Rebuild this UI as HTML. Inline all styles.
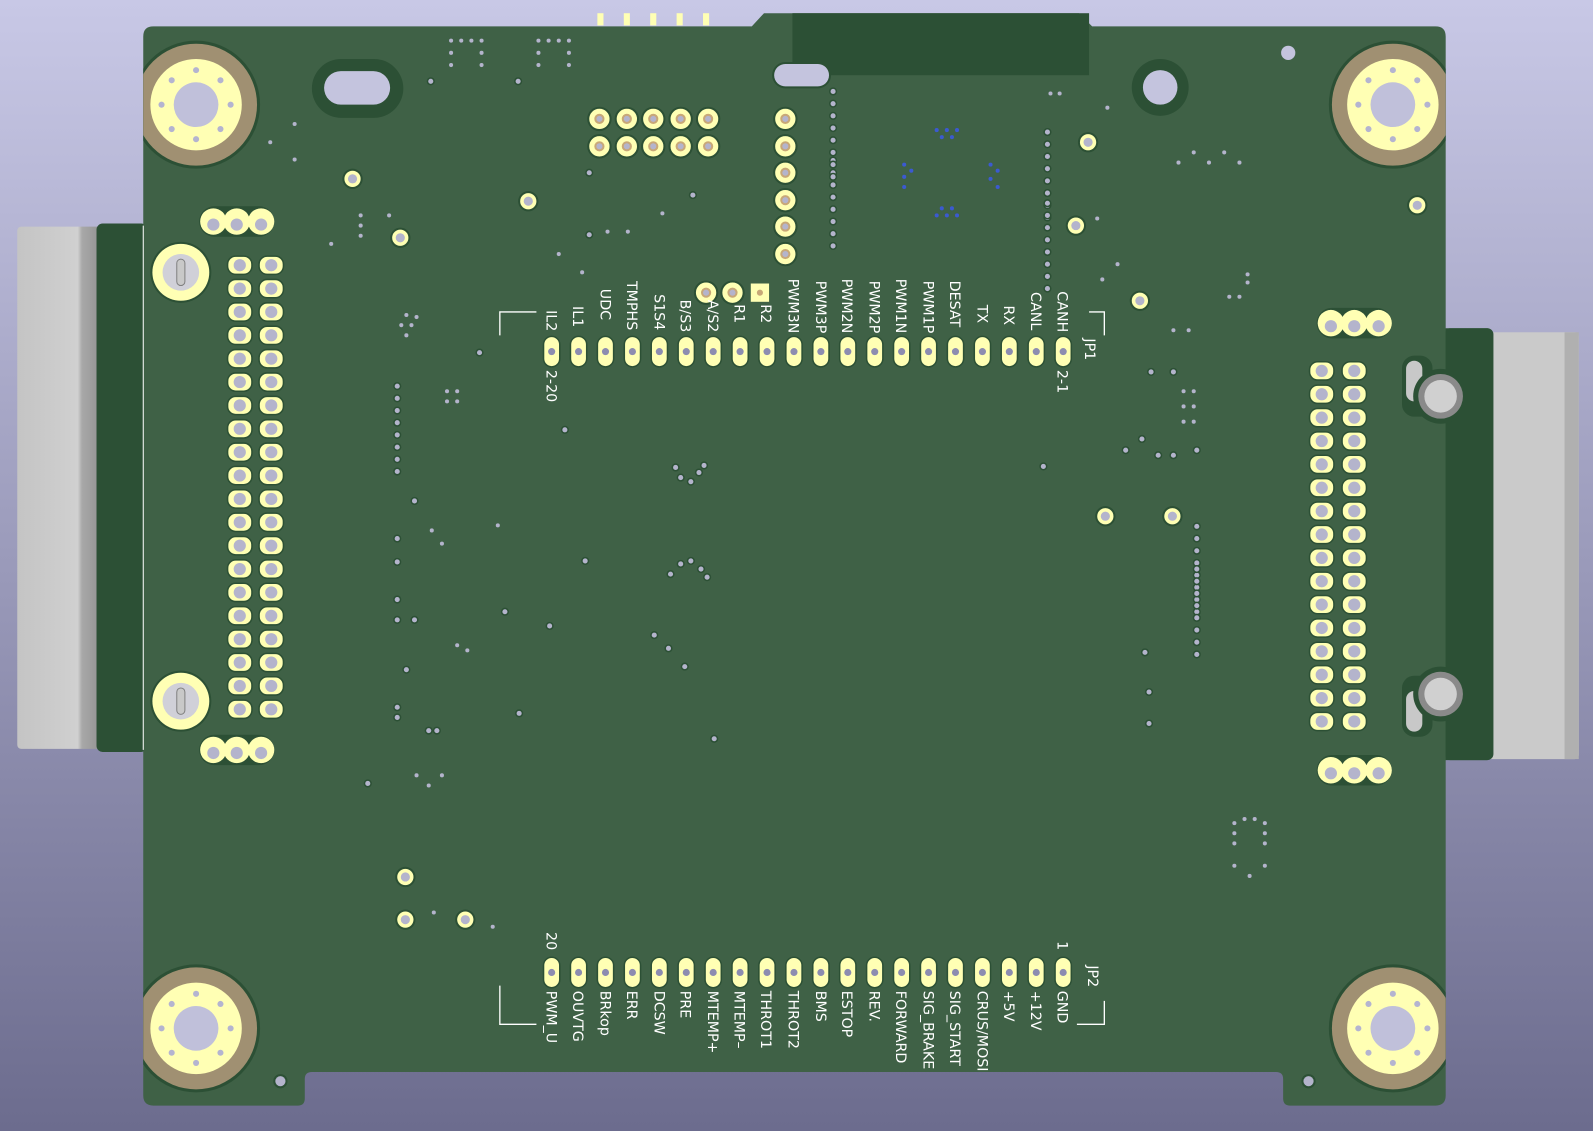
<!DOCTYPE html>
<html><head><meta charset="utf-8"><style>
html,body{margin:0;padding:0;width:1593px;height:1131px;overflow:hidden}
svg{display:block}
text{font-family:"DejaVu Sans","Liberation Sans",sans-serif;fill:#fff;font-size:14px}
</style></head><body>
<svg width="1593" height="1131" viewBox="0 0 1568 1113" preserveAspectRatio="none" xmlns="http://www.w3.org/2000/svg">
<defs>
<linearGradient id="bg" x1="0" y1="0" x2="0" y2="1"><stop offset="0" stop-color="#c8c8e6"/><stop offset="1" stop-color="#6c6c8e"/></linearGradient>
<linearGradient id="gl" x1="0" y1="0" x2="1" y2="0"><stop offset="0" stop-color="#c4c4c4"/><stop offset="0.7" stop-color="#d0d0d0"/><stop offset="0.75" stop-color="#a8a8a8"/><stop offset="1" stop-color="#909090"/></linearGradient>
<clipPath id="bc"><rect x="141" y="26" width="1282" height="1062"/></clipPath>
<g id="mh"><circle r="63" fill="#2c5035"/><circle r="60" fill="#a09072"/><circle r="45" fill="#ffffb4"/><circle r="22" fill="#c0c0da"/>
<g fill="#b4b4d0"><circle cx="0" cy="-34" r="3"/><circle cx="0" cy="34" r="3"/><circle cx="-34" cy="0" r="3"/><circle cx="34" cy="0" r="3"/><circle cx="24" cy="24" r="3"/><circle cx="-24" cy="24" r="3"/><circle cx="24" cy="-24" r="3"/><circle cx="-24" cy="-24" r="3"/></g></g>
<g id="hp"><rect x="-12" y="-9" width="24" height="18" rx="8" fill="#ffffb4" stroke="#2c5035" stroke-width="1.5"/><circle r="6" fill="#b4b4cc"/></g>
<g id="op"><rect x="-8" y="-15" width="16" height="30" rx="8" fill="#ffffb4" stroke="#2c5035" stroke-width="1.5"/><circle r="3.5" fill="#8c8cb0"/></g>
<g id="rp"><circle r="11" fill="#ffffb4" stroke="#2c5035" stroke-width="2"/><circle r="5" fill="#c8a878"/><circle r="3" fill="#b4b4cc"/></g>
<g id="yv"><circle r="10" fill="#2c5035"/><circle r="8" fill="#ffffb4"/><circle r="4.5" fill="#b4b4cc"/></g>
<g id="tr"><circle r="30" fill="#2c5035"/><circle r="28" fill="#ffffb4"/><circle r="18" fill="#d0d0d8"/><rect x="-4" y="-13" width="8" height="26" rx="4" fill="#c8c8c8" stroke="#808080"/></g>
<g id="d"><circle r="4" fill="#2c5035"/><circle r="2.5" fill="#b4b4cc"/></g>
<g id="vc"><use href="#d" x="0" y="0"/><use href="#d" x="0" y="12"/><use href="#d" x="0" y="24"/><use href="#d" x="0" y="36"/><use href="#d" x="0" y="48"/><use href="#d" x="0" y="60"/><use href="#d" x="0" y="72"/><use href="#d" x="0" y="84"/></g>
</defs>
<rect width="1568" height="1113" fill="url(#bg)"/>
<!-- left connector -->
<rect x="17" y="223" width="85" height="514" rx="4" fill="url(#gl)"/>
<rect x="95" y="220" width="50" height="520" rx="6" fill="#2c5035"/>
<!-- right connector -->
<rect x="1460" y="327" width="94" height="420" rx="4" fill="#cacaca"/>
<rect x="1540" y="327" width="14" height="420" fill="#b0b0b0"/>
<rect x="1400" y="323" width="70" height="425" rx="6" fill="#2c5035"/>
<!-- board -->
<path d="M151 26 H740 L752 13 H1062 L1075 26 H1413 Q1423 26 1423 36 V1078 Q1423 1088 1413 1088 H1270 Q1263 1088 1263 1081 V1062 Q1263 1055 1256 1055 H307 Q300 1055 300 1062 V1081 Q300 1088 293 1088 H151 Q141 1088 141 1078 V36 Q141 26 151 26Z" fill="#3f6146"/>
<rect x="1423" y="323" width="45" height="425" rx="4" fill="#2c5035"/>
<rect x="780" y="13" width="292" height="61" fill="#2c5035"/>
<line x1="141" y1="222" x2="141" y2="738" stroke="#fff" stroke-width="1"/>
<!-- top pins -->
<g fill="#ffffb4"><rect x="588" y="13" width="6" height="12"/><rect x="614" y="13" width="6" height="12"/><rect x="640" y="13" width="6" height="12"/><rect x="666" y="13" width="6" height="12"/><rect x="692" y="13" width="6" height="12"/></g>
<!-- holes -->
<rect x="307" y="58" width="90" height="58" rx="29" fill="#2c5035"/><rect x="319" y="70" width="65" height="33" rx="16.5" fill="#c4c4de"/>
<rect x="760" y="61" width="58" height="26" rx="13" fill="#2c5035"/><rect x="762" y="63" width="54" height="22" rx="11" fill="#c4c4de"/>
<circle cx="1142" cy="86" r="28" fill="#2c5035"/><circle cx="1142" cy="86" r="17" fill="#c4c4de"/>
<circle cx="1268" cy="52" r="7" fill="#c4c4de"/><circle cx="276" cy="1064" r="7" fill="#2c5035"/><circle cx="276" cy="1064" r="5" fill="#b4b4cc"/><circle cx="1288" cy="1064" r="7" fill="#2c5035"/><circle cx="1288" cy="1064" r="5" fill="#b4b4cc"/>
<!-- mounting -->
<g clip-path="url(#bc)"><use href="#mh" x="193" y="103"/><use href="#mh" x="1371" y="103"/><use href="#mh" x="193" y="1012"/><use href="#mh" x="1371" y="1012"/></g>
<!-- right side posts -->
<g><rect x="1380" y="350" width="30" height="60" rx="12" fill="#2c5035"/><rect x="1384" y="355" width="16" height="40" rx="8" fill="#c8c8c8"/><circle cx="1418" cy="390" r="27" fill="#2c5035"/><circle cx="1418" cy="390" r="22" fill="#8a8a8a"/><circle cx="1418" cy="390" r="16" fill="#d0d0d0"/></g>
<g><rect x="1380" y="665" width="30" height="60" rx="12" fill="#2c5035"/><rect x="1384" y="680" width="16" height="40" rx="8" fill="#c8c8c8"/><circle cx="1418" cy="683" r="27" fill="#2c5035"/><circle cx="1418" cy="683" r="22" fill="#8a8a8a"/><circle cx="1418" cy="683" r="16" fill="#d0d0d0"/></g>
<!-- trimmers -->
<use href="#tr" x="178" y="268"/><use href="#tr" x="178" y="690"/>
<!-- 3-pad groups -->
<g id="g3"><rect x="196" y="203" width="74" height="30" rx="15" fill="#2c5035"/><circle cx="210" cy="218" r="13" fill="#ffffb4"/><circle cx="233" cy="218" r="13" fill="#ffffb4"/><circle cx="257" cy="218" r="13" fill="#ffffb4"/><circle cx="210" cy="221" r="6" fill="#b4b4cc"/><circle cx="233" cy="221" r="6" fill="#b4b4cc"/><circle cx="257" cy="221" r="6" fill="#b4b4cc"/></g>
<use href="#g3" x="0" y="520"/><use href="#g3" x="1100" y="100"/><use href="#g3" x="1100" y="540"/>
<!-- left header -->
<g id="lh"><use href="#hp" x="236" y="261"/><use href="#hp" x="267" y="261"/><use href="#hp" x="236" y="284"/><use href="#hp" x="267" y="284"/><use href="#hp" x="236" y="307"/><use href="#hp" x="267" y="307"/><use href="#hp" x="236" y="330"/><use href="#hp" x="267" y="330"/><use href="#hp" x="236" y="353"/><use href="#hp" x="267" y="353"/></g>
<use href="#lh" y="115"/><use href="#lh" y="230"/><use href="#lh" y="345"/>
<!-- right header -->
<g id="rh"><use href="#hp" x="1301" y="365"/><use href="#hp" x="1333" y="365"/><use href="#hp" x="1301" y="388"/><use href="#hp" x="1333" y="388"/><use href="#hp" x="1301" y="411"/><use href="#hp" x="1333" y="411"/><use href="#hp" x="1301" y="434"/><use href="#hp" x="1333" y="434"/></g>
<use href="#rh" y="92"/><use href="#rh" y="184"/><use href="#rh" y="276"/>
<!-- top 2x5 -->
<use href="#rp" x="590" y="117"/><use href="#rp" x="617" y="117"/><use href="#rp" x="643" y="117"/><use href="#rp" x="670" y="117"/><use href="#rp" x="697" y="117"/>
<use href="#rp" x="590" y="144"/><use href="#rp" x="617" y="144"/><use href="#rp" x="643" y="144"/><use href="#rp" x="670" y="144"/><use href="#rp" x="697" y="144"/>
<use href="#rp" x="773" y="117"/><use href="#rp" x="773" y="144"/><use href="#rp" x="773" y="170"/><use href="#rp" x="773" y="197"/><use href="#rp" x="773" y="223"/><use href="#rp" x="773" y="250"/>
<use href="#rp" x="695" y="288"/><use href="#rp" x="721" y="288"/><rect x="739" y="279" width="18" height="18" fill="#ffffb4"/><circle cx="748" cy="288" r="3" fill="#c8a878"/>
<!-- yellow vias -->
<use href="#yv" x="347" y="176"/><use href="#yv" x="520" y="198"/><use href="#yv" x="394" y="234"/><use href="#yv" x="1071" y="140"/><use href="#yv" x="1059" y="222"/><use href="#yv" x="1395" y="202"/><use href="#yv" x="1122" y="296"/><use href="#yv" x="399" y="863"/><use href="#yv" x="399" y="905"/><use href="#yv" x="458" y="905"/><use href="#yv" x="1088" y="508"/><use href="#yv" x="1154" y="508"/>
<!-- via columns -->
<use href="#vc" x="820" y="158"/><use href="#vc" x="1031" y="130"/><use href="#vc" x="1031" y="200"/><use href="#vc" x="391" y="380"/><use href="#vc" x="1178" y="518"/><use href="#vc" x="1178" y="560"/><use href="#vc" x="820" y="90"/>
<use href="#d" x="1133" y="366"/><use href="#d" x="1155" y="366"/><use href="#d" x="1027" y="459"/><use href="#d" x="556" y="423"/><use href="#d" x="472" y="347"/><use href="#d" x="580" y="170"/><use href="#d" x="682" y="192"/><use href="#d" x="580" y="231"/><use href="#d" x="424" y="80"/><use href="#d" x="510" y="80"/><use href="#d" x="362" y="771"/><use href="#d" x="703" y="727"/><use href="#d" x="541" y="616"/><use href="#d" x="576" y="552"/><use href="#d" x="658" y="638"/><use href="#d" x="674" y="656"/><use href="#d" x="644" y="625"/><use href="#d" x="391" y="553"/><use href="#d" x="391" y="530"/><use href="#d" x="391" y="590"/><use href="#d" x="391" y="610"/><use href="#d" x="408" y="610"/><use href="#d" x="391" y="696"/><use href="#d" x="391" y="706"/><use href="#d" x="400" y="659"/><use href="#d" x="1131" y="681"/><use href="#d" x="1131" y="712"/><use href="#d" x="1127" y="642"/><use href="#d" x="1108" y="443"/><use href="#d" x="1124" y="432"/><use href="#d" x="1140" y="448"/><use href="#d" x="1155" y="448"/><use href="#d" x="1178" y="443"/>
<use href="#d" x="660" y="565"/><use href="#d" x="670" y="555"/><use href="#d" x="680" y="552"/><use href="#d" x="690" y="560"/><use href="#d" x="696" y="568"/><use href="#d" x="665" y="460"/><use href="#d" x="670" y="470"/><use href="#d" x="680" y="474"/><use href="#d" x="688" y="465"/><use href="#d" x="693" y="458"/><use href="#d" x="497" y="602"/><use href="#d" x="511" y="702"/><use href="#d" x="408" y="493"/><use href="#d" x="422" y="719"/><use href="#d" x="430" y="719"/>
<g fill="#b4b4cc"><circle cx="444" cy="40" r="2"/><circle cx="454" cy="40" r="2"/><circle cx="464" cy="40" r="2"/><circle cx="474" cy="40" r="2"/><circle cx="444" cy="52" r="2"/><circle cx="474" cy="52" r="2"/><circle cx="444" cy="64" r="2"/><circle cx="474" cy="64" r="2"/><circle cx="530" cy="40" r="2"/><circle cx="540" cy="40" r="2"/><circle cx="550" cy="40" r="2"/><circle cx="560" cy="40" r="2"/><circle cx="530" cy="52" r="2"/><circle cx="560" cy="52" r="2"/><circle cx="530" cy="64" r="2"/><circle cx="560" cy="64" r="2"/><circle cx="290" cy="122" r="2"/><circle cx="266" cy="140" r="2"/><circle cx="290" cy="157" r="2"/><circle cx="1160" cy="160" r="2"/><circle cx="1190" cy="160" r="2"/><circle cx="1220" cy="160" r="2"/><circle cx="1175" cy="150" r="2"/><circle cx="1205" cy="150" r="2"/><circle cx="1210" cy="292" r="2"/><circle cx="1220" cy="292" r="2"/><circle cx="1228" cy="270" r="2"/><circle cx="1228" cy="278" r="2"/><circle cx="1215" cy="810" r="2"/><circle cx="1225" cy="806" r="2"/><circle cx="1235" cy="806" r="2"/><circle cx="1245" cy="810" r="2"/><circle cx="1215" cy="820" r="2"/><circle cx="1245" cy="820" r="2"/><circle cx="1215" cy="830" r="2"/><circle cx="1245" cy="830" r="2"/><circle cx="1215" cy="852" r="2"/><circle cx="1230" cy="862" r="2"/><circle cx="1245" cy="852" r="2"/><circle cx="410" cy="763" r="2"/><circle cx="422" cy="773" r="2"/><circle cx="435" cy="763" r="2"/><circle cx="485" cy="912" r="2"/><circle cx="427" cy="898" r="2"/><circle cx="355" cy="212" r="2"/><circle cx="355" cy="222" r="2"/><circle cx="355" cy="232" r="2"/><circle cx="383" cy="212" r="2"/><circle cx="326" cy="240" r="2"/><circle cx="400" cy="310" r="2"/><circle cx="405" cy="320" r="2"/><circle cx="395" cy="320" r="2"/><circle cx="410" cy="312" r="2"/><circle cx="400" cy="330" r="2"/><circle cx="440" cy="385" r="2"/><circle cx="450" cy="385" r="2"/><circle cx="440" cy="395" r="2"/><circle cx="450" cy="395" r="2"/><circle cx="425" cy="522" r="2"/><circle cx="435" cy="535" r="2"/><circle cx="490" cy="517" r="2"/><circle cx="450" cy="635" r="2"/><circle cx="460" cy="640" r="2"/><circle cx="1165" cy="385" r="2"/><circle cx="1175" cy="385" r="2"/><circle cx="1165" cy="400" r="2"/><circle cx="1175" cy="400" r="2"/><circle cx="1165" cy="415" r="2"/><circle cx="1175" cy="415" r="2"/><circle cx="1155" cy="325" r="2"/><circle cx="1170" cy="325" r="2"/><circle cx="1100" cy="260" r="2"/><circle cx="1085" cy="275" r="2"/><circle cx="1080" cy="215" r="2"/><circle cx="1090" cy="106" r="2"/><circle cx="1034" cy="92" r="2"/><circle cx="1043" cy="92" r="2"/><circle cx="550" cy="250" r="2"/><circle cx="573" cy="268" r="2"/><circle cx="598" cy="228" r="2"/><circle cx="652" cy="210" r="2"/><circle cx="618" cy="228" r="2"/></g>
<g fill="#3b5ad0"><circle cx="922" cy="128" r="2"/><circle cx="932" cy="128" r="2"/><circle cx="942" cy="128" r="2"/><circle cx="927" cy="135" r="2"/><circle cx="937" cy="135" r="2"/><circle cx="890" cy="162" r="2"/><circle cx="890" cy="174" r="2"/><circle cx="897" cy="168" r="2"/><circle cx="890" cy="184" r="2"/><circle cx="975" cy="162" r="2"/><circle cx="975" cy="176" r="2"/><circle cx="982" cy="168" r="2"/><circle cx="982" cy="184" r="2"/><circle cx="922" cy="212" r="2"/><circle cx="932" cy="212" r="2"/><circle cx="942" cy="212" r="2"/><circle cx="927" cy="205" r="2"/><circle cx="937" cy="205" r="2"/></g>
<!-- JP1 -->
<g id="p1"><use href="#op" x="543" y="346"/><use href="#op" x="569.5" y="346"/><use href="#op" x="596" y="346"/><use href="#op" x="622.5" y="346"/><use href="#op" x="649" y="346"/><use href="#op" x="675.5" y="346"/><use href="#op" x="702" y="346"/><use href="#op" x="728.5" y="346"/><use href="#op" x="755" y="346"/><use href="#op" x="781.5" y="346"/><use href="#op" x="808" y="346"/><use href="#op" x="834.5" y="346"/><use href="#op" x="861" y="346"/><use href="#op" x="887.5" y="346"/><use href="#op" x="914" y="346"/><use href="#op" x="940.5" y="346"/><use href="#op" x="967" y="346"/><use href="#op" x="993.5" y="346"/><use href="#op" x="1020" y="346"/><use href="#op" x="1046.5" y="346"/></g>
<use href="#p1" y="611"/>
<g fill="none" stroke="#fff" stroke-width="1.3"><path d="M492 330 V307 H528"/><path d="M1072 307 H1087 V330"/><path d="M492 970 V1008 H528"/><path d="M1060 1008 H1087 V985"/></g>
<g text-anchor="end">
<text transform="translate(538,326) rotate(90)">IL2</text>
<text transform="translate(564,322) rotate(90)">IL1</text>
<text transform="translate(591,315) rotate(90)">UDC</text>
<text transform="translate(617,325) rotate(90)">TMPHS</text>
<text transform="translate(644,325) rotate(90)">S1S4</text>
<text transform="translate(670,327) rotate(90)">B/S3</text>
<text transform="translate(697,327) rotate(90)">A/S2</text>
<text transform="translate(723,318) rotate(90)">R1</text>
<text transform="translate(749,318) rotate(90)">R2</text>
<text transform="translate(776,328) rotate(90)">PWM3N</text>
<text transform="translate(803,328) rotate(90)">PWM3P</text>
<text transform="translate(829,328) rotate(90)">PWM2N</text>
<text transform="translate(856,328) rotate(90)">PWM2P</text>
<text transform="translate(882,328) rotate(90)">PWM1N</text>
<text transform="translate(909,328) rotate(90)">PWM1P</text>
<text transform="translate(935,322) rotate(90)">DESAT</text>
<text transform="translate(962,318) rotate(90)">TX</text>
<text transform="translate(988,320) rotate(90)">RX</text>
<text transform="translate(1015,325) rotate(90)">CANL</text>
<text transform="translate(1041,327) rotate(90)">CANH</text>
<text transform="translate(538,935) rotate(90)">20</text>
<text transform="translate(1041,935) rotate(90)">1</text>
</g>
<text transform="translate(538,364) rotate(90)">2-20</text>
<text transform="translate(1041,364) rotate(90)">2-1</text>
<text transform="translate(1068,333) rotate(90)">JP1</text>
<text transform="translate(1071,950) rotate(90)">JP2</text>
<g font-size="13">
<text transform="translate(538,975) rotate(90)">PWM_U</text>
<text transform="translate(564,975) rotate(90)">OUVTG</text>
<text transform="translate(591,975) rotate(90)">BRkop</text>
<text transform="translate(617,975) rotate(90)">ERR</text>
<text transform="translate(644,975) rotate(90)">DCSW</text>
<text transform="translate(670,975) rotate(90)">PRE</text>
<text transform="translate(697,975) rotate(90)">MTEMP+</text>
<text transform="translate(723,975) rotate(90)">MTEMP–</text>
<text transform="translate(749,975) rotate(90)">THROT1</text>
<text transform="translate(776,975) rotate(90)">THROT2</text>
<text transform="translate(803,975) rotate(90)">BMS</text>
<text transform="translate(829,975) rotate(90)">ESTOP</text>
<text transform="translate(856,975) rotate(90)">REV.</text>
<text transform="translate(882,975) rotate(90)" font-size="11">FORWARD</text>
<text transform="translate(909,975) rotate(90)" font-size="11">SIG_BRAKE</text>
<text transform="translate(935,975) rotate(90)" font-size="11">SIG_START</text>
<text transform="translate(962,975) rotate(90)" font-size="11">CRUS/MOSI</text>
<text transform="translate(988,975) rotate(90)">+5V</text>
<text transform="translate(1015,975) rotate(90)">+12V</text>
<text transform="translate(1041,975) rotate(90)">GND</text>
</g>
</svg>
</body></html>
